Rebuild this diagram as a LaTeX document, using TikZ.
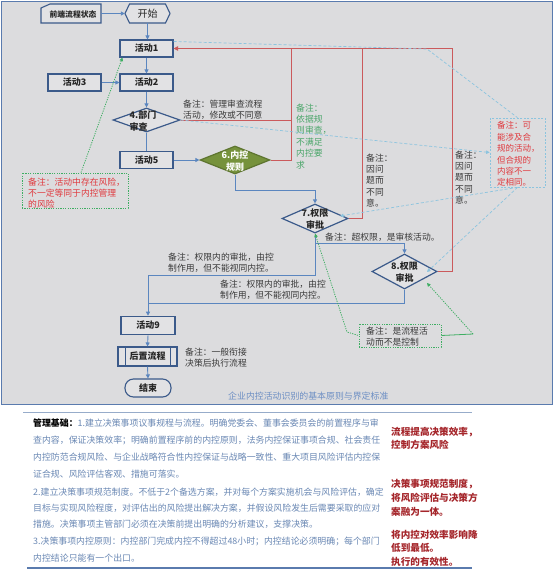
\documentclass[tikz,border=0pt]{standalone}
\usepackage{fontspec}
\setmainfont{Noto Sans CJK SC}
\usetikzlibrary{arrows.meta,shapes.geometric,shapes.misc}
\definecolor{bggray}{HTML}{DCDCDE}
\definecolor{frameblue}{HTML}{5A7BAE}
\definecolor{boxblue}{HTML}{3B5A8A}
\definecolor{boxfill}{HTML}{E2E2E4}
\definecolor{linkblue}{HTML}{5B86BF}
\definecolor{redline}{HTML}{CB5A5C}
\definecolor{dashblue}{HTML}{8CC4DE}
\definecolor{notegreen}{HTML}{3FAE63}
\definecolor{greentext}{HTML}{4BA66A}
\definecolor{greenfill}{HTML}{76923C}
\definecolor{notetext}{HTML}{3A3A3A}
\definecolor{notered}{HTML}{E0393E}
\definecolor{bodyblue}{HTML}{6A88B4}
\definecolor{darkred}{HTML}{A5262B}
\definecolor{titleblue}{HTML}{6D8FC4}
\newcommand\myfs[2]{\fontsize{#1}{#2}\selectfont}
\tikzset{
 actbox/.style={draw=boxblue, line width=1.1pt, fill=boxfill, minimum width=53pt, minimum height=17pt, inner sep=0pt, font=\bfseries\myfs{9}{11}, text=black!85},
 dia/.style={diamond, draw=boxblue, line width=1.2pt, fill=boxfill, inner sep=0pt},
 diatext/.style={font=\bfseries\myfs{9}{11.5}, text=black!85, align=left, inner sep=0pt},
 flow/.style={draw=linkblue, line width=0.9pt, -{Triangle[length=4pt,width=4pt]}},
 flowline/.style={draw=linkblue, line width=0.9pt},
 redl/.style={draw=redline, line width=0.95pt},
 dashl/.style={draw=dashblue, line width=0.7pt, dash pattern=on 3pt off 2pt},
 greenl/.style={draw=notegreen, line width=0.8pt, dash pattern=on 1.2pt off 1.2pt},
 note/.style={font=\myfs{8.8}{11.4}, text=notetext, align=left, inner sep=0pt, anchor=north west},
 body/.style={font=\myfs{8.9}{11}, text=bodyblue, anchor=west, inner sep=0pt},
 rbody/.style={font=\bfseries\myfs{9.6}{11}, text=darkred, anchor=west, inner sep=0pt},
}
\begin{document}
\begin{tikzpicture}[x=1pt,y=-1pt]
\useasboundingbox (0,0) rectangle (554,573);
\fill[white] (0,0) rectangle (554,573);
\draw[frameblue, line width=1.5pt, fill=bggray] (1.5,1.5) rectangle (552.5,404.5);

% --- flow nodes ---
\node[inner sep=0pt, minimum width=60pt, minimum height=19pt] (pre) at (71,13.5) {};
\draw[boxblue, line width=1.1pt, fill=boxfill] (41,23) -- (41,8) -- (50,4) -- (101,4) -- (101,23) -- cycle;
\node[font=\bfseries\myfs{7.8}{9}, text=black!85] (pret) at (73,14) {前端流程状态};
\node[inner sep=0pt, minimum width=45pt, minimum height=19pt] (start) at (147.5,13.5) {};
\draw[boxblue, line width=1.1pt, fill=boxfill] (125,13.5) -- (129.5,4) -- (165.5,4) -- (170,13.5) -- (165.5,23) -- (129.5,23) -- cycle;
\node[font=\myfs{10}{11}, text=black!85] (startt) at (147.5,13.5) {开始};

\node[actbox] (a1) at (146.5,48.5) {活动1};
\node[actbox] (a2) at (146.5,82.5) {活动2};
\node[actbox] (a3) at (74.5,82.5) {活动3};
\node[dia, minimum width=67pt, minimum height=24pt] (d4) at (146.5,120) {};
\node[diatext] (d4t) at (143,121) {4.部门\\审查};
\node[actbox] (a5) at (146.5,160) {活动5};
\node[dia, fill=greenfill, draw=greenfill!80!black, minimum width=70pt, minimum height=28pt] (d6) at (235,160) {};
\node[diatext, text=white, align=center] (d6t) at (235,161) {6.内控\\规则};
\node[dia, minimum width=66pt, minimum height=29pt] (d7) at (315,218.5) {};
\node[diatext, align=center] (d7t) at (315,219) {7.权限\\审批};
\node[dia, minimum width=65pt, minimum height=35pt] (d8) at (404.5,271.5) {};
\node[diatext, align=center] (d8t) at (404.5,272) {8.权限\\审批};
\node[actbox, line width=1.6pt, minimum width=54pt, minimum height=18pt] (a9) at (148,325.5) {活动9};
\node[actbox, minimum width=59pt, minimum height=19pt] (post) at (147.5,356.5) {后置流程};
\draw[boxblue, line width=1.1pt] ([xshift=8pt]post.north west) -- ([xshift=8pt]post.south west)
  ([xshift=-7pt]post.north east) -- ([xshift=-7pt]post.south east);
\node[actbox, rounded corners=8.5pt, minimum width=46pt, minimum height=18pt] (end) at (148,388) {结束};

% --- flow connectors ---
\draw[flow] (pre.east) -- (start.west);
\draw[flow] (start.south) -- (start.south |- a1.north);
\draw[flow] (a1.south) -- (a2.north);
\draw[flow] (a3.east) -- (a2.west);
\draw[flow] (a2.south) -- (d4.north);
\draw[flowline] (d4.south) -- (a5.north);
\draw[flow] (a5.east) -- (d6.west);
\draw[flow] (d6.south) -- ++(0,16) -| (d7.north);
\draw[flow] (d7.south) -- (315,243) -| (d8.north);
\draw[flow] (d7.south) -- (315,275) -| (a9.north);
\draw[flowline] (d8.south) |- (148,303);
\draw[flow] (a9.south) -- (post.north);
\draw[flow] (post.south) -- (end.north);

% --- red return lines ---
\draw[redl, -{Triangle[length=4.5pt,width=4.5pt]}] (d8.east) -| (452,48.5) -- (a1.east);
\draw[redl] (d7.east) -| (362,48.5);
\draw[redl] (d4.east) -| (291,48.5);
\draw[redl] (d6.east) -| (291,120);

% --- notes ---
\node[note] (nmg) at (183,99.5) {备注：管理审查流程\\活动，修改或不同意};
\node[note, text=greentext] (ngr) at (296,103.5) {备注：\\依据规\\则审查，\\不满足\\内控要\\求};
\node[note] (nq1) at (366,153.5) {备注：\\因问\\题而\\不同\\意。};
\node[note] (nq2) at (455,150.5) {备注：\\因问\\题而\\不同\\意。};
\node[note] (nover) at (325,232.5) {备注：超权限，是审核活动。};
\node[note] (nin1) at (168,252.5) {备注：权限内的审批，由控\\制作用，但不能视同内控。};
\node[note] (nin2) at (220,279.5) {备注：权限内的审批，由控\\制作用，但不能视同内控。};
\node[note] (npost) at (185,347.5) {备注：一般衔接\\决策后执行流程};

\node[draw=dashblue, line width=0.7pt, dash pattern=on 2pt off 1.5pt, minimum width=55pt, minimum height=69pt, inner sep=0pt] (rnote) at (517.5,152.5) {};
\node[note, text=notered, font=\myfs{8.5}{11.4}] (rnotet) at (497,121.5) {备注：可\\能涉及合\\规的活动，\\但合规的\\内容不一\\定相同。};

\node[draw=notegreen, line width=0.8pt, dash pattern=on 1.2pt off 1.2pt, minimum width=106pt, minimum height=35pt, inner sep=0pt] (gnote) at (75,190.5) {};
\node[note, text=notered] (gnotet) at (28,177.5) {备注：活动中存在风险，\\不一定等同于内控管理\\的风险};

\node[draw=notegreen, line width=0.8pt, dash pattern=on 1.2pt off 1.2pt, minimum width=82pt, minimum height=23pt, inner sep=0pt] (gnote2) at (400,335.5) {};
\node[note] (gnote2t) at (366,326.5) {备注：是流程活\\动而不是控制};

% --- dashed blue links ---
\draw[dashl] ([yshift=-2pt]a1.north east) -- (427,49) -- (rnote.north);
\draw[dashl, -{Triangle[length=3.5pt,width=3.5pt]}] (d4.east) -- (rnote.west);
\draw[dashl, -{Triangle[length=3.5pt,width=3.5pt]}] (rnote.south) -- (340,216);
\draw[dashl, -{Triangle[length=3.5pt,width=3.5pt]}] (rnote.south) -- (427,272);

% --- green links ---
\draw[greenl, -{Triangle[length=3.5pt,width=3.5pt]}] ([xshift=6pt]gnote.north) -- ([xshift=3pt]a1.south west);
\coordinate (gbend) at (347,332);
\draw[greenl, {Triangle[length=3.5pt,width=3.5pt]}-] (d7.south) -- (gbend) -- (gnote2.west);
\coordinate (gk) at (473,334);
\draw[notegreen, line width=0.8pt] (gnote2.east) -- (gk);
\draw[greenl, -{Triangle[length=3.5pt,width=3.5pt]}] (gk) -- (427,283);

% --- title ---
\node[anchor=west, inner sep=0pt, font=\myfs{8.9}{10}, text=titleblue] (title) at (228,396) {企业内控活动识别的基本原则与界定标准};

% --- lower text section ---
\coordinate (s1) at (23,412); \coordinate (s2) at (472,412);
\draw[bodyblue!70, line width=0.8pt] (s1) -- (s2);
\coordinate (s3) at (27,568); \coordinate (s4) at (472,568);
\draw[frameblue, line width=1.2pt] (s3) -- (s4);

\node[body] (b1) at (33,423) {{\bfseries\color{black}管理基础：}1.建立决策事项议事规程与流程。明确党委会、董事会委员会的前置程序与审};
\node[body] (b2) at (33,440) {查内容，保证决策效率；明确前置程序前的内控原则，法务内控保证事项合规、社会责任};
\node[body] (b3) at (33,457) {内控防范合规风险、与企业战略符合性内控保证与战略一致性、重大项目风险评估内控保};
\node[body] (b4) at (33,474) {证合规、风险评估客观、措施可落实。};
\node[body] (b5) at (33,492) {2.建立决策事项规范制度。不低于2个备选方案，并对每个方案实施机会与风险评估，确定};
\node[body] (b6) at (33,508) {目标与实现风险程度，对评估出的风险提出解决方案，并假设风险发生后需要采取的应对};
\node[body] (b7) at (33,524) {措施。决策事项主管部门必须在决策前提出明确的分析建议，支撑决策。};
\node[body] (b8) at (33,541) {3.决策事项内控原则：内控部门完成内控不得超过48小时；内控结论必须明确；每个部门};
\node[body] (b9) at (33,558) {内控结论只能有一个出口。};

\node[rbody] (r1) at (391,432) {流程提高决策效率，};
\node[rbody] (r2) at (391,445) {控制方案风险};
\node[rbody] (r3) at (391,484) {决策事项规范制度，};
\node[rbody] (r4) at (391,498) {将风险评估与决策方};
\node[rbody] (r5) at (391,512) {案融为一体。};
\node[rbody] (r6) at (391,535) {将内控对效率影响降};
\node[rbody] (r7) at (391,548) {低到最低。};
\node[rbody] (r8) at (391,562) {执行的有效性。};
\end{tikzpicture}
\end{document}
